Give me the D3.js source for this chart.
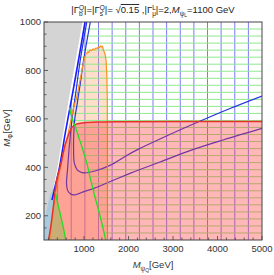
<!DOCTYPE html>
<html><head><meta charset="utf-8">
<script src="https://cdn.jsdelivr.net/npm/d3@7"></script>
<style>body{margin:0;background:#fff;} svg{display:block;font-family:"Liberation Sans",Arial,sans-serif;}</style>
</head><body><svg id="c" width="274" height="275"></svg>
<script>
// ---- data (M_psiQ [GeV], M_Phi [GeV]) ----
const xTicks = [1000, 2000, 3000, 4000, 5000];
const yTicks = [200, 400, 600, 800, 1000];
const xMinor = [200,400,600,800,1200,1400,1600,1800,2200,2400,2600,2800,3200,3400,3600,3800,4200,4400,4600,4800];
const yMinor = [150,250,300,350,450,500,550,650,700,750,850,900,950];
const grayBoundary = [[965,1000],[673,699],[392,389],[280,286],[190,183],[145,100]];
const lightBlueWedge = [[347,327],[314,244.5],[257,162],[201,100],[100,100],[100,174],[167,232],[235,286]];
const blueLine = [[1022,1000],[887,855],[736,699],[583,546],[437,389],[358,327],[280,265],[230,180],[205,100]];
const contourUpper = [[1141,1000],[1044,901],[977,827],[920,752],[875,699],[842,657],[797,608],[770,542],[765,472],[781,418],[842,391],[909,382],[999,377],[1246,385],[1583,408],[1921,445],[2190,472],[2707,517],[3561,587],[4281,643],[5000,694.5]];
const contourLower = [[1062,1000],[909,835],[808,699],[741,616],[700,547],[662,472],[628,389],[606,335],[628,306],[684,292],[774,286],[999,300],[1224,313],[1673,348],[2033,375],[2258,391],[2707,422],[3427,472],[4123,513],[5000,561]];
const redBoundary = [[201,100],[257,162],[314,244.5],[385,348],[475,410],[572,492],[651,533.5],[723,564],[835,579],[999,584],[1291,587],[1808,588.4],[5000,589.2]];
const orangeBoundary = [[224,100],[302,215.6],[370,306],[448,381],[527,451],[617,521],[696,587],[763,645],[842,694.5],[898,748],[954,802],[1010,851],[1044,868],[1078,876],[1100,874],[1134,884],[1168,882],[1201,888.5],[1235,886],[1269,893],[1291,890.6],[1325,897],[1347,895],[1370,901],[1392,897],[1415,899],[1437,884],[1471,868],[1494,843],[1512,781],[1523,678],[1527,100]];
const greenLine1 = [[670,648],[729,604],[813,562],[887,521],[961,480],[1022,443],[1073,410],[1123,368],[1179,327],[1246,277.5],[1314,232],[1381,183],[1437,141],[1487,100]];
const greenLine2 = [[352,300],[392,265],[460,211.5],[527,158],[588,100]];
const meshX = [406,712,1019,1325,1631,1938,2244,2550,2856,3163,3469,3775,4081,4388,4694];
const meshY = [129.0,158.1,187.1,216.1,245.2,274.2,303.2,332.3,361.3,390.3,419.4,448.4,477.4,506.5,535.5,564.5,593.5,622.6,651.6,680.6,709.7,738.7,767.7,796.8,825.8,854.8,883.9,912.9,941.9,971.0];

const svg = d3.select("#c");
const x = d3.scaleLinear().domain([100, 5000]).range([44, 262]);
const y = d3.scaleLinear().domain([100, 1000]).range([240, 22]);
const lin = d3.line().x(d => x(d[0])).y(d => y(d[1]));
const smooth = d3.line().x(d => x(d[0])).y(d => y(d[1])).curve(d3.curveCatmullRom.alpha(0.5));

const defs = svg.append("defs");
defs.append("clipPath").attr("id","plot").append("rect")
  .attr("x", x(100)).attr("y", y(1000)).attr("width", x(5000)-x(100)).attr("height", y(100)-y(1000));
defs.append("clipPath").attr("id","blueReg").append("path")
  .attr("d", lin([...blueLine, [5000,100], [5000,1000]]) + "Z");
defs.append("clipPath").attr("id","greenReg").append("path")
  .attr("d", lin([...blueLine.slice(0,3), ...greenLine1, [5000,100], [5000,1000]]) + "Z");

const g = svg.append("g").attr("clip-path","url(#plot)");

// gray excluded region
g.append("path").attr("d", lin([[100,1000], ...grayBoundary, [100,100]]) + "Z").attr("fill","#d4d4d4");
g.append("path").attr("d", lin(lightBlueWedge) + "Z").attr("fill","#a9c9dc");

// vertical mesh (blue region)
g.append("g").attr("clip-path","url(#blueReg)").selectAll("line").data(meshX).join("line")
  .attr("x1", d => x(d)).attr("x2", d => x(d)).attr("y1", y(100)).attr("y2", y(1000))
  .attr("stroke","#7a7aff").attr("stroke-width",1);

// orange fill
g.append("path").attr("d", lin(orangeBoundary) + "Z").attr("fill","rgba(250,160,100,0.35)");

// horizontal mesh (green region)
g.append("g").attr("clip-path","url(#greenReg)").selectAll("line").data(meshY).join("line")
  .attr("y1", d => y(d)).attr("y2", d => y(d)).attr("x1", x(100)).attr("x2", x(5000))
  .attr("stroke","#8fe88f").attr("stroke-width",1);

// green filled region (lower-left)
g.append("path").attr("d", lin([...greenLine2, ...redBoundary.slice(0,3)]) + "Z").attr("fill","#a8f096");

// blue lines
g.append("path").attr("d", smooth(blueLine.slice(0,7))).attr("fill","none").attr("stroke","#1a1aff").attr("stroke-width",1.6);
g.append("path").attr("d", smooth(contourUpper)).attr("fill","none").attr("stroke","#2233e0").attr("stroke-width",1.2);
g.append("path").attr("d", smooth(contourLower)).attr("fill","none").attr("stroke","#2233e0").attr("stroke-width",1.2);

// orange boundary
g.append("path").attr("d", lin(orangeBoundary)).attr("fill","none").attr("stroke","#ff9020").attr("stroke-width",1.2);

// red region
g.append("path").attr("d", smooth(redBoundary) + "L" + x(5000) + "," + y(100) + "Z").attr("fill","rgba(255,60,60,0.37)");
g.append("path").attr("d", smooth(redBoundary)).attr("fill","none").attr("stroke","#e8302a").attr("stroke-width",1.4);

// green boundary lines
g.append("path").attr("d", smooth(greenLine1)).attr("fill","none").attr("stroke","#22dd22").attr("stroke-width",1.3);
g.append("path").attr("d", smooth(greenLine2)).attr("fill","none").attr("stroke","#22dd22").attr("stroke-width",1.3);

// frame
svg.append("rect").attr("x", x(100)).attr("y", y(1000)).attr("width", x(5000)-x(100)).attr("height", y(100)-y(1000))
  .attr("fill","none").attr("stroke","#444").attr("stroke-width",1);

// ticks
const tk = svg.append("g").attr("stroke","#444").attr("stroke-width",0.8);
tk.selectAll(".xM").data(xTicks).join("line").attr("x1",d=>x(d)).attr("x2",d=>x(d)).attr("y1",y(100)).attr("y2",y(100)-4);
tk.selectAll(".xm").data(xMinor).join("line").attr("x1",d=>x(d)).attr("x2",d=>x(d)).attr("y1",y(100)).attr("y2",y(100)-2.5);
tk.selectAll(".yM").data(yTicks).join("line").attr("y1",d=>y(d)).attr("y2",d=>y(d)).attr("x1",x(100)).attr("x2",x(100)+4);
tk.selectAll(".ym").data(yMinor).join("line").attr("y1",d=>y(d)).attr("y2",d=>y(d)).attr("x1",x(100)).attr("x2",x(100)+2.5);

const lab = svg.append("g").attr("fill","#333").attr("font-size",9.5);
lab.selectAll(".xl").data(xTicks).join("text").attr("x",d=>x(d)).attr("y",y(100)+11.5)
  .attr("text-anchor","middle").text(d=>d);
lab.selectAll(".yl").data(yTicks).join("text").attr("x",x(100)-3).attr("y",d=>y(d)+3.4)
  .attr("text-anchor","end").text(d=>d);

// axis labels
const xl = svg.append("text").attr("x",153).attr("y",268).attr("text-anchor","middle").attr("font-size",9.5).attr("fill","#333");
xl.append("tspan").attr("font-style","italic").text("M");
xl.append("tspan").attr("font-size",6.5).attr("dy",2.5).text("ψ");
xl.append("tspan").attr("font-size",5).attr("dy",1.5).text("Q");
xl.append("tspan").attr("dy",-4).text("[GeV]");

const yl = svg.append("text").attr("transform","translate(10,128) rotate(-90)").attr("text-anchor","middle").attr("font-size",9.5).attr("fill","#333");
yl.append("tspan").attr("font-style","italic").text("M");
yl.append("tspan").attr("font-size",6.5).attr("dy",2.5).text("Φ");
yl.append("tspan").attr("dy",-2.5).text("[GeV]");

// title
const t = svg.append("text").attr("x",153).attr("y",13).attr("text-anchor","middle").attr("font-size",9.5).attr("fill","#222");
t.append("tspan").text("|Γ");
t.append("tspan").attr("font-size",6.5).attr("dy",2.5).text("b");
t.append("tspan").attr("font-size",6.5).attr("dx",-3.6).attr("dy",-6).text("Q");
t.append("tspan").attr("dy",3.5).text("|=|Γ");
t.append("tspan").attr("font-size",6.5).attr("dy",2.5).text("s");
t.append("tspan").attr("font-size",6.5).attr("dx",-3.3).attr("dy",-6).text("Q");
t.append("tspan").attr("dy",3.5).text("|= √");
t.append("tspan").style("text-decoration","overline").text("0.15");
t.append("tspan").text(" ,|Γ");
t.append("tspan").attr("font-size",6.5).attr("dy",2.5).text("μ");
t.append("tspan").attr("font-size",6.5).attr("dx",-3.8).attr("dy",-6).text("L");
t.append("tspan").attr("dy",3.5).text("|=2,");
t.append("tspan").attr("font-style","italic").text("M");
t.append("tspan").attr("font-size",6.5).attr("dy",2.5).text("ψ");
t.append("tspan").attr("font-size",5).attr("dy",1.5).text("L");
t.append("tspan").attr("dy",-4).text("=1100 GeV");
</script>
</body></html>
